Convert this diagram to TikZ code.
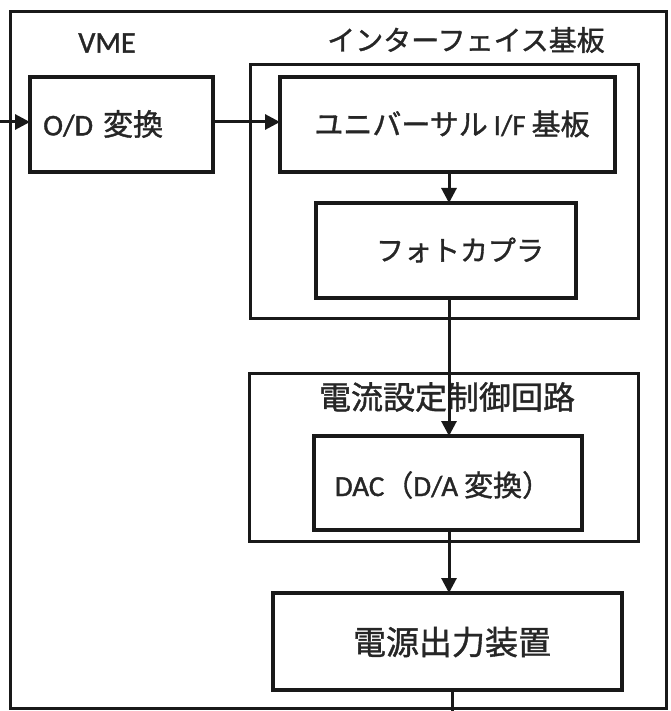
\documentclass[tikz,border=0pt]{standalone}
\usepackage{fontspec}
\setmainfont{Carlito}[FakeBold=1.2]
\newfontfamily\cjk{Noto Sans CJK JP}[FakeBold=1.2]
\usetikzlibrary{arrows.meta}
\tikzset{
  box/.style={draw=black!90, line width=4pt, rectangle, inner sep=0pt, outer sep=0pt},
  frame/.style={draw=black!90, line width=3pt, rectangle, inner sep=0pt, outer sep=0pt},
  txt/.style={inner sep=0pt, text=black!85},
  arr/.style={line width=3pt, draw=black!90, -{Triangle[length=15pt,width=15pt]}},
  ln/.style={line width=3pt, draw=black!90},
}
\newcommand{\fs}[1]{\fontsize{#1}{#1}\selectfont}
\begin{document}
\begin{tikzpicture}[x=1pt,y=-1pt]
\useasboundingbox[fill=white] (0,0) rectangle (670,711);
% frames
\node[frame, minimum width=656pt, minimum height=696pt] (vme) at (338,360) {};
\node[txt] (vmelabel) at (107,43) {\fs{30}VME};
\node[frame, minimum width=388pt, minimum height=253pt] (iface) at (444,191.5) {};
\node[txt] (ifacelabel) at (466,40) {\fs{28}\cjk インターフェイス基板};
\node[frame, minimum width=389pt, minimum height=168pt] (ctrl) at (443.5,457) {};
\node[txt] (ctrllabel) at (447,397) {\fs{32}\cjk 電流設定制御回路};
% boxes
\node[box, minimum width=183pt, minimum height=95pt] (od) at (121.5,124.5) {};
\node[txt, anchor=west] (odt) at (43,124) {\fs{30}O/D\hspace{10pt}{\cjk 変換}};
\node[box, minimum width=335pt, minimum height=95pt] (univ) at (447.5,124.5) {};
\node[txt] (univt) at (452,124) {\fs{29}{\cjk ユニバーサル}\hspace{6pt}I/F\hspace{6pt}{\cjk 基板}};
\node[box, minimum width=260pt, minimum height=95pt] (photo) at (446,250.5) {};
\node[txt] (photot) at (460,250) {\fs{28}\cjk フォトカプラ};
\node[box, minimum width=268pt, minimum height=94pt] (dac) at (448,483) {};
\node[txt] (dact) at (443,485) {\fs{29}DAC{\cjk （}D/A\hspace{6pt}{\cjk 変換）}};
\node[box, minimum width=349pt, minimum height=97pt] (power) at (447.5,641.5) {};
\node[txt] (powert) at (452,642) {\fs{33}\cjk 電源出力装置};
% connectors
\coordinate (in) at (0,122);
\coordinate (out) at (452,711);
\draw[arr] (in) -- (in -| od.west);
\draw[arr] (od.east |- 0,122) -- (univ.west |- 0,122);
\draw[arr] (univ.south -| 449,0) -- (photo.north -| 449,0);
\draw[arr] (photo.south -| 449,0) -- (dac.north -| 449,0);
\draw[arr] (dac.south -| 449,0) -- (power.north -| 449,0);
\draw[ln] (power.south -| out) -- (out);
\end{tikzpicture}
\end{document}
